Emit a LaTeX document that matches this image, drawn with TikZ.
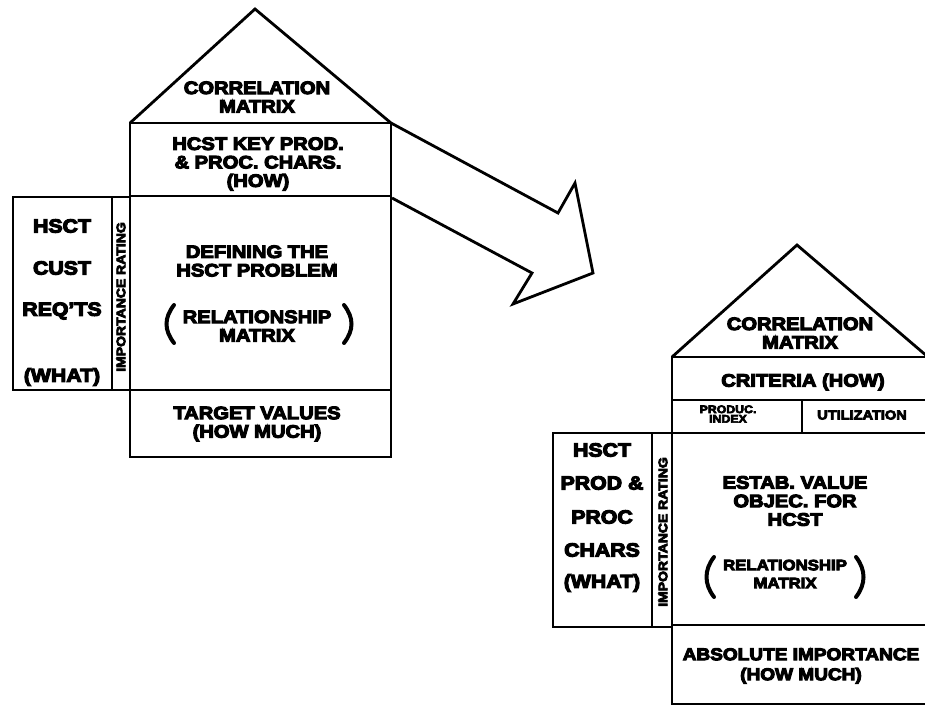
\documentclass[tikz,border=0pt]{standalone}
\usepackage{fontspec}
\setmainfont{Liberation Sans Bold}[FakeStretch=1.12, FakeBold=6]
\begin{document}
\begin{tikzpicture}[x=1pt, y=-1pt, line width=2.8pt, line join=miter,
  lbl/.style={font=\fontsize{18}{18.5}\selectfont, align=center, inner sep=0pt},
  col/.style={font=\fontsize{19}{19}\selectfont, inner sep=0pt},
  vert/.style={font=\fontsize{12.5}{12.5}\selectfont, rotate=90, inner sep=0pt},
  paren/.style={line width=4pt, line cap=round}]
\useasboundingbox (0,0) rectangle (925,706);
\clip (0,0) rectangle (925,706);

% ---------- first house: defining the problem ----------
\coordinate (a1) at (130,123);
\coordinate (a2) at (391,123);
\coordinate (apexA) at (255,9);
\draw (a1) -- (apexA) -- (a2);
\draw (a1) rectangle (391,457);
\draw (130,196) -- (391,196);
\draw (130,390) -- (391,390);
\draw (13,197) rectangle (130,390);
\draw (112,197) -- (112,390);

\node[lbl] (corrA) at (257,97) {CORRELATION\\MATRIX};
\node[lbl] (howA) at (258,164) {HCST KEY PROD.\\\& PROC. CHARS.\\(HOW)};
\node[lbl] (defA) at (257,261) {DEFINING THE\\HSCT PROBLEM};
\node[lbl] (relA) at (257,326) {RELATIONSHIP\\MATRIX};
\draw[paren] (174,305) .. controls (164,318) and (164,330) .. (174,343);
\draw[paren] (344,305) .. controls (354,318) and (354,330) .. (344,343);
\node[lbl] (tgtA) at (257,424) {TARGET VALUES\\(HOW MUCH)};

\node[col] (w1) at (62,226) {HSCT};
\node[col] (w2) at (62,268) {CUST};
\node[col] (w3) at (62,311) {REQ'TS};
\node[col] (w4) at (62,377) {(WHAT)};
\node[vert] (impA) at (121,297) {IMPORTANCE RATING};

% ---------- arrow between the houses ----------
\draw (a2) -- (558,213) -- (575,183) -- (593,273) -- (513,304) -- (532,273) -- (392,198);

% ---------- second house: value objectives ----------
\coordinate (b1) at (672,357);
\coordinate (b2) at (928,357);
\coordinate (apexB) at (797,245);
\draw (b1) -- (apexB) -- (b2);
\draw (b1) rectangle (928,704);
\draw (672,400) -- (928,400);
\draw (672,433) -- (928,433);
\draw (802,400) -- (802,433);
\draw (672,625) -- (928,625);
\draw (553,433) rectangle (672,627);
\draw (652,433) -- (652,627);

\node[lbl] (corrB) at (800,333) {CORRELATION\\MATRIX};
\node[lbl] (howB) at (803,382) {CRITERIA (HOW)};
\node[font=\fontsize{11}{9.5}\selectfont, align=center, inner sep=0pt] (prod) at (728,414) {PRODUC.\\INDEX};
\node[font=\fontsize{13}{13}\selectfont, inner sep=0pt] (util) at (862,415) {UTILIZATION};
\node[lbl] (estB) at (795,501) {ESTAB. VALUE\\OBJEC. FOR\\HCST};
\node[lbl, font=\fontsize{15}{18}\selectfont] (relB) at (785,574) {RELATIONSHIP\\MATRIX};
\draw[paren] (714,557) .. controls (704,570) and (704,584) .. (714,597);
\draw[paren] (856,557) .. controls (866,570) and (866,584) .. (856,597);
\node[lbl, font=\fontsize{17}{20}\selectfont] (absB) at (801,666) {ABSOLUTE IMPORTANCE\\(HOW MUCH)};

\node[col] (v1) at (602,450) {HSCT};
\node[col] (v2) at (602,483) {PROD \&};
\node[col] (v3) at (602,517) {PROC};
\node[col] (v4) at (602,550) {CHARS};
\node[col] (v5) at (602,583) {(WHAT)};
\node[vert] (impB) at (663,532) {IMPORTANCE RATING};
\end{tikzpicture}
\end{document}
